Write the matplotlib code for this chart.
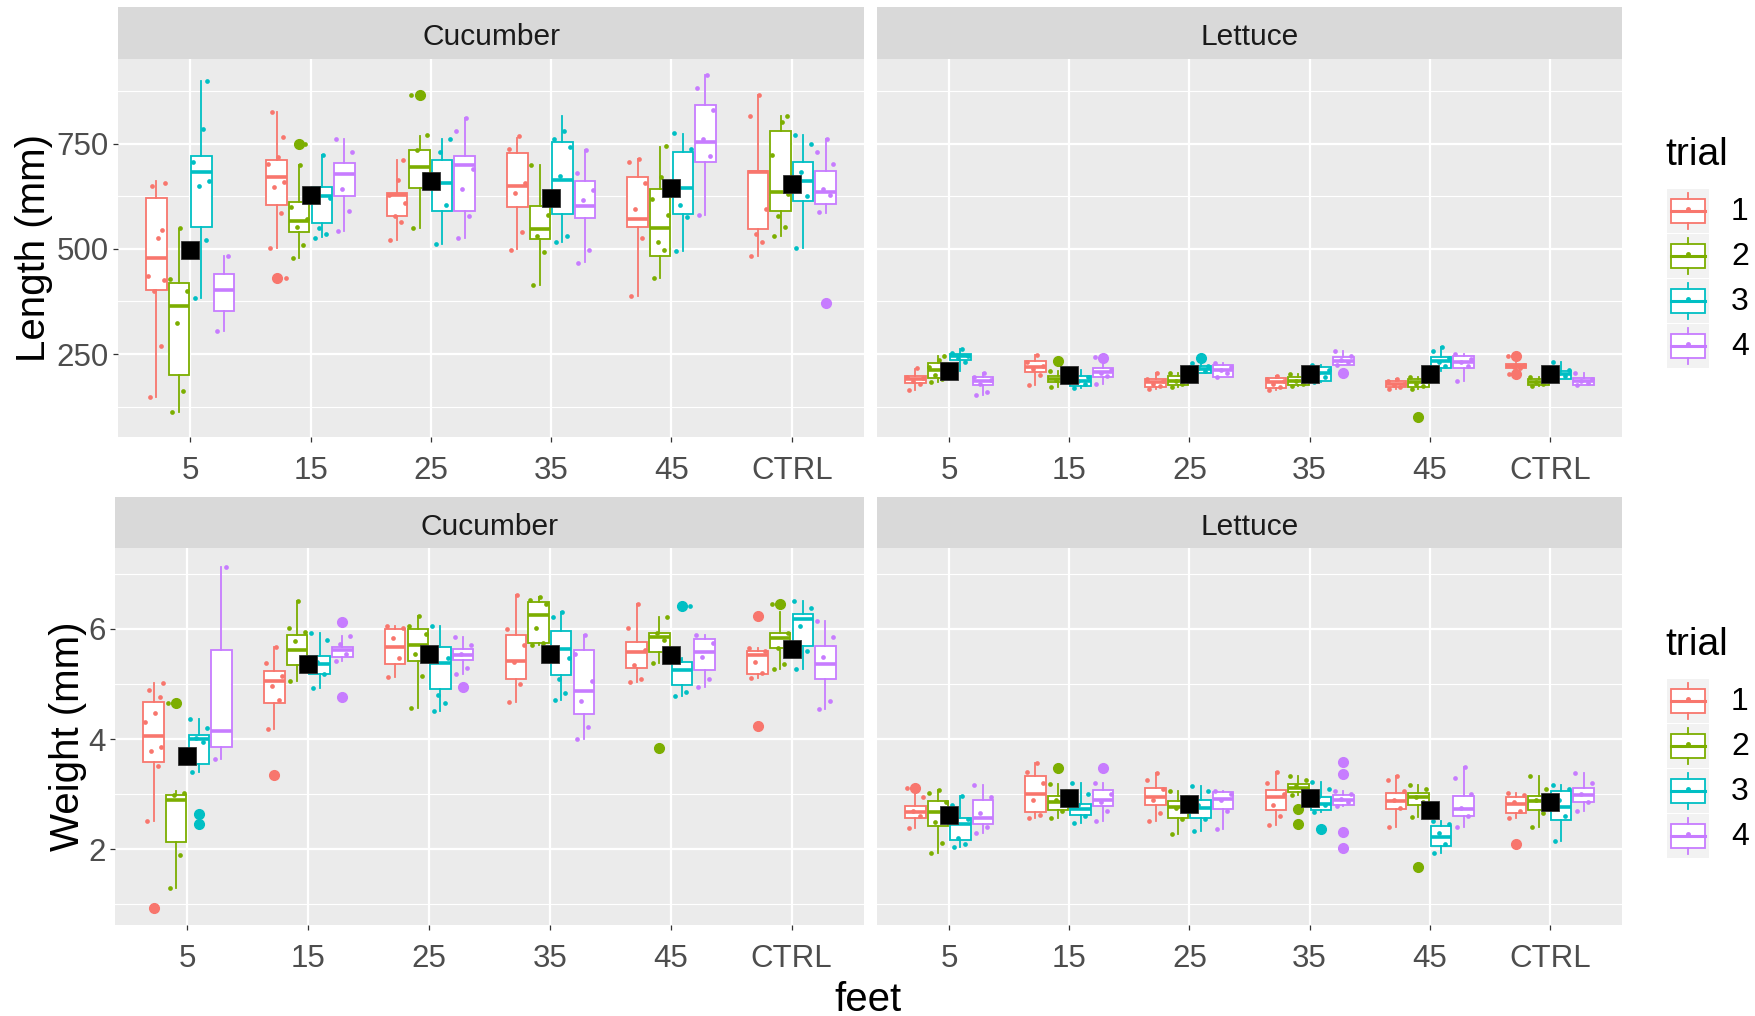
import matplotlib
matplotlib.use('Agg')
import matplotlib.pyplot as plt
from matplotlib.patches import Rectangle

plt.rcParams['font.family'] = ['Liberation Sans', 'DejaVu Sans']

feet = ['5', '15', '25', '35', '45', 'CTRL']
trials = ['1', '2', '3', '4']
colors = ['#F8766D', '#7CAE00', '#00BFC4', '#C77CFF']

# box stats per feet: (whisker low, q1, median, q3, whisker high)
# ---- Length, Cucumber
len_cuc_t1 = [(148, 403, 479, 620, 661), (503, 603, 670, 712, 824), (520, 579, 628, 633, 712),
              (500, 600, 650, 727, 763), (387, 551, 570, 670, 714), (484, 547, 682, 684, 866)]
len_cuc_t2 = [(112, 201, 365, 418, 547), (479, 541, 567, 611, 699), (550, 645, 694, 736, 769),
              (415, 524, 547, 601, 700), (430, 482, 549, 642, 741), (530, 589, 634, 781, 815)]
len_cuc_t3 = [(384, 551, 682, 721, 898), (528, 561, 625, 648, 724), (512, 591, 656, 712, 761),
              (516, 583, 664, 753, 816), (494, 583, 645, 729, 773), (502, 613, 662, 707, 771)]
len_cuc_t4 = [(305, 353, 403, 441, 484), (543, 625, 677, 703, 760), (526, 591, 698, 721, 812),
              (468, 574, 601, 661, 735), (581, 707, 755, 842, 913), (585, 607, 636, 684, 761)]
len_cuc_out = {(0, 1): [431], (1, 1): [749], (1, 2): [865], (3, 5): [372]}
len_cuc_mean = [498, 629, 660, 620, 644, 653]
len_cuc_pts = [
    [[148, 269, 400, 425, 435, 525, 544, 650, 657], [503, 585, 646, 658, 701, 717, 765, 826, 431],
     [520, 563, 579, 610, 628, 664, 712], [498, 540, 632, 656, 737, 767],
     [387, 525, 595, 656, 707, 714], [484, 516, 536, 595, 816, 866]],
    [[112, 162, 324, 401, 429, 549], [479, 508, 553, 571, 600, 699, 749],
     [550, 678, 736, 771, 865], [415, 492, 530, 581, 700],
     [430, 498, 517, 581, 619, 670, 744], [530, 553, 579, 631, 724, 802, 816]],
    [[384, 521, 650, 660, 706, 784, 898], [525, 536, 549, 620, 625, 724],
     [512, 605, 729, 761], [516, 530, 674, 743, 760, 779],
     [494, 575, 604, 737, 775], [502, 625, 682, 748, 771]],
    [[305, 484], [543, 591, 642, 729, 760], [526, 579, 642, 690, 779, 812],
     [466, 498, 615, 640, 680, 735], [581, 720, 761, 830, 881, 913],
     [587, 627, 642, 702, 729, 761]],
]

# ---- Length, Lettuce
len_let_t1 = [(165, 182, 190, 198, 215), (176, 208, 220, 233, 248), (167, 172, 183, 191, 205),
              (164, 170, 183, 192, 198), (168, 172, 180, 187, 191), (214, 216, 221, 226, 229)]
len_let_t2 = [(183, 192, 212, 228, 245), (172, 184, 190, 198, 210), (172, 176, 187, 198, 206),
              (174, 176, 185, 195, 202), (168, 172, 183, 191, 195), (174, 177, 183, 191, 196)]
len_let_t3 = [(210, 235, 245, 250, 263), (170, 174, 185, 198, 212), (204, 206, 214, 221, 229),
              (183, 185, 205, 220, 225), (210, 217, 233, 242, 267), (191, 191, 202, 210, 230)]
len_let_t4 = [(153, 176, 185, 196, 205), (180, 195, 208, 217, 230), (195, 195, 212, 223, 229),
              (223, 223, 233, 242, 258), (185, 217, 230, 245, 250), (177, 177, 185, 192, 206)]
len_let_out = {(0, 5): [245, 203], (1, 1): [233], (1, 4): [100], (2, 2): [240],
               (3, 1): [240], (3, 3): [205]}
len_let_mean = [210, 200, 202, 202, 202, 202]
len_let_pts = [
    [[164, 180, 186, 192, 196, 217], [176, 200, 215, 222, 230, 248], [167, 175, 180, 186, 190, 205],
     [164, 172, 178, 186, 190, 198], [168, 172, 176, 180, 185, 191], [203, 216, 220, 224, 245]],
    [[183, 190, 200, 210, 220, 235, 245], [172, 185, 188, 195, 210], [172, 178, 185, 192, 206],
     [174, 178, 185, 190, 202], [168, 175, 180, 186, 195], [174, 178, 183, 188, 196]],
    [[210, 230, 240, 246, 252, 263], [170, 178, 186, 195, 212], [204, 210, 216, 222, 229],
     [183, 195, 205, 212, 225], [210, 222, 232, 240, 258, 267], [191, 198, 204, 212, 230]],
    [[153, 160, 178, 188, 196, 205], [180, 198, 205, 212, 244], [195, 205, 212, 220, 229],
     [223, 230, 236, 245, 258], [185, 222, 230, 238, 250], [177, 182, 186, 190, 206]],
]

# ---- Weight, Cucumber
wt_cuc_t1 = [(2.52, 3.58, 4.06, 4.68, 5.01), (4.19, 4.66, 5.05, 5.23, 5.67), (5.12, 5.36, 5.67, 6.00, 6.05),
             (4.68, 5.09, 5.42, 5.89, 6.62), (5.03, 5.29, 5.59, 5.77, 6.45), (5.11, 5.19, 5.53, 5.60, 5.66)]
wt_cuc_t2 = [(1.30, 2.13, 2.89, 2.99, 3.06), (5.06, 5.34, 5.61, 5.89, 6.51), (4.56, 5.42, 5.70, 6.00, 6.24),
             (5.71, 5.75, 6.25, 6.49, 6.58), (5.39, 5.58, 5.85, 5.93, 6.22), (5.27, 5.65, 5.84, 5.92, 6.31)]
wt_cuc_t3 = [(3.41, 3.55, 4.00, 4.07, 4.36), (4.92, 5.19, 5.37, 5.51, 5.92), (4.51, 4.91, 5.39, 5.67, 6.05),
             (4.71, 5.16, 5.63, 5.96, 6.31), (4.79, 4.98, 5.25, 5.40, 5.48), (5.27, 5.69, 6.18, 6.27, 6.51)]
wt_cuc_t4 = [(3.64, 3.86, 4.14, 5.61, 7.12), (5.42, 5.50, 5.61, 5.68, 5.87), (5.18, 5.43, 5.53, 5.64, 5.86),
             (4.00, 4.45, 4.88, 5.61, 5.89), (4.94, 5.25, 5.59, 5.81, 5.89), (4.54, 5.09, 5.37, 5.69, 6.14)]
wt_cuc_out = {(0, 0): [0.94], (0, 1): [3.35], (0, 5): [6.24, 4.24], (1, 0): [4.66], (1, 4): [3.84],
              (1, 5): [6.45], (2, 0): [2.64, 2.46], (2, 4): [6.42], (3, 1): [6.13, 4.77], (3, 2): [4.95]}
wt_cuc_mean = [3.69, 5.36, 5.54, 5.55, 5.52, 5.64]
wt_cuc_pts = [
    [[2.52, 3.52, 3.79, 3.86, 4.31, 4.48, 4.76, 4.89, 5.01], [4.19, 4.71, 4.97, 5.15, 5.38, 5.67],
     [5.12, 5.48, 5.84, 6.02, 6.05], [4.68, 5.00, 5.40, 5.70, 6.00, 6.62],
     [5.03, 5.10, 5.35, 5.62, 6.02, 6.45], [5.11, 5.20, 5.40, 5.60, 5.66]],
    [[1.30, 1.89, 2.98, 3.02, 4.66], [5.06, 5.27, 5.78, 5.95, 6.01, 6.51],
     [4.56, 5.15, 5.55, 5.90, 6.05, 6.24], [5.71, 5.74, 6.01, 6.45, 6.52, 6.58],
     [5.39, 5.80, 5.93, 6.22], [5.27, 5.36, 5.65, 5.92, 6.45]],
    [[3.41, 3.95, 4.02, 4.20, 4.36], [4.92, 5.19, 5.40, 5.80, 5.92],
     [4.51, 4.66, 4.80, 5.48, 6.05], [4.71, 4.83, 5.10, 5.48, 6.22, 6.31],
     [4.79, 4.85, 5.44, 6.42], [5.27, 5.60, 6.05, 6.38, 6.51]],
    [[3.64, 7.12], [5.42, 5.55, 5.72, 5.87], [5.18, 5.30, 5.55, 5.70, 5.86],
     [4.00, 4.22, 4.70, 5.05, 5.55, 5.89], [4.94, 5.10, 5.50, 5.75, 5.89],
     [4.54, 4.70, 5.50, 5.85, 6.14]],
]

# ---- Weight, Lettuce
wt_let_t1 = [(2.38, 2.57, 2.68, 2.79, 3.00), (2.56, 2.68, 3.00, 3.33, 3.56), (2.51, 2.81, 2.94, 3.11, 3.39),
             (2.44, 2.71, 2.95, 3.08, 3.41), (2.40, 2.74, 2.88, 3.02, 3.33), (2.56, 2.65, 2.83, 2.94, 3.02)]
wt_let_t2 = [(1.94, 2.42, 2.67, 2.88, 3.08), (2.56, 2.71, 2.85, 2.96, 3.19), (2.28, 2.56, 2.77, 2.88, 3.05),
             (2.98, 3.04, 3.12, 3.19, 3.33), (2.59, 2.81, 2.94, 3.02, 3.17), (2.40, 2.71, 2.88, 2.96, 3.33)]
wt_let_t3 = [(2.05, 2.17, 2.45, 2.57, 2.96), (2.48, 2.63, 2.74, 2.83, 3.20), (2.34, 2.56, 2.75, 2.90, 3.14),
             (2.68, 2.71, 2.83, 2.94, 3.23), (1.94, 2.06, 2.22, 2.43, 2.52), (2.15, 2.54, 2.77, 3.06, 3.17)]
wt_let_t4 = [(2.30, 2.46, 2.57, 2.90, 3.17), (2.52, 2.79, 2.90, 3.07, 3.20), (2.37, 2.74, 2.91, 3.04, 3.05),
             (2.79, 2.81, 2.90, 2.98, 3.05), (2.40, 2.60, 2.73, 2.96, 3.49), (2.69, 2.85, 2.99, 3.11, 3.39)]
wt_let_out = {(0, 0): [3.12], (0, 5): [2.10], (1, 1): [3.47], (1, 3): [2.74, 2.46], (1, 4): [1.68],
              (2, 3): [2.36], (3, 1): [3.47], (3, 3): [3.58, 3.37, 2.32, 2.03]}
wt_let_mean = [2.63, 2.93, 2.82, 2.93, 2.71, 2.85]
wt_let_pts = [
    [[2.38, 2.60, 2.70, 2.95, 3.12], [2.56, 2.62, 2.90, 3.20, 3.40, 3.56], [2.51, 2.65, 2.90, 3.10, 3.25, 3.39],
     [2.44, 2.60, 2.80, 3.00, 3.20, 3.41], [2.40, 2.75, 2.90, 3.05, 3.25, 3.33], [2.56, 2.70, 2.85, 2.98, 3.02]],
    [[1.94, 2.12, 2.50, 2.85, 3.02, 3.08], [2.56, 2.70, 2.90, 3.05, 3.19], [2.28, 2.55, 2.75, 2.95, 3.05],
     [2.98, 3.05, 3.15, 3.25, 3.33], [2.59, 2.85, 2.95, 3.10, 3.17], [2.40, 2.65, 2.90, 3.10, 3.33]],
    [[2.05, 2.10, 2.20, 2.55, 2.80, 2.96], [2.48, 2.60, 2.80, 3.00, 3.20], [2.34, 2.55, 2.80, 3.05, 3.14],
     [2.68, 2.80, 2.95, 3.10, 3.23], [1.94, 2.10, 2.30, 2.45, 2.52], [2.15, 2.60, 2.90, 3.10, 3.17]],
    [[2.30, 2.40, 2.65, 2.95, 3.17], [2.52, 2.70, 2.85, 3.00, 3.20], [2.37, 2.70, 2.90, 3.00, 3.05],
     [2.79, 2.85, 2.92, 3.00, 3.05], [2.40, 2.60, 2.75, 3.00, 3.30, 3.49], [2.69, 2.85, 3.00, 3.20, 3.39]],
]

len_ticks = [250, 500, 750]
len_minor = [125, 375, 625, 875]
wt_ticks = [2, 4, 6]
wt_minor = [1, 3, 5, 7]

# dodge / jitter layout
slot = 0.1875
box_w = 0.17
jit = [-0.055, 0.035, -0.02, 0.065, -0.07, 0.01, 0.05, -0.04, 0.075, -0.01]

W, H = 1755, 1016
fig = plt.figure(figsize=(W / 100, H / 100), dpi=100)


def rect(x0, y0, x1, y1):
    return [x0 / W, 1 - y1 / H, (x1 - x0) / W, (y1 - y0) / H]


def draw_panel(ax, stats, outs, pts, means, ylim, major, minor, show_y):
    ax.set_facecolor('#EBEBEB')
    for s in ax.spines.values():
        s.set_visible(False)

    for t in range(4):
        col = colors[t]
        bstats = []
        pos = []
        for f in range(6):
            lo, q1, med, q3, hi = stats[t][f]
            bstats.append({'whislo': lo, 'q1': q1, 'med': med, 'q3': q3, 'whishi': hi,
                           'fliers': outs.get((t, f), [])})
            pos.append(f + 1 + (t - 1.5) * slot)
        ax.bxp(bstats, positions=pos, widths=box_w, patch_artist=True, showcaps=False,
               manage_ticks=False,
               boxprops=dict(facecolor='white', edgecolor=col, lw=1.3),
               whiskerprops=dict(color=col, lw=1.3),
               medianprops=dict(color=col, lw=2.6),
               flierprops=dict(marker='o', markersize=7, markerfacecolor=col,
                               markeredgecolor=col),
               zorder=2)
        for f in range(6):
            vals = pts[t][f]
            xs = [pos[f] + jit[i % len(jit)] for i in range(len(vals))]
            ax.plot(xs, vals, 'o', ms=3.4, color=col, mec='none', zorder=3)
    ax.plot(range(1, 7), means, 's', ms=13, color='black', mec='#333333', mew=0.6, zorder=5)

    ax.set_xlim(0.4, 6.6)
    ax.set_ylim(*ylim)
    ax.set_xticks(range(1, 7))
    ax.set_xticklabels(feet)
    ax.set_yticks(major)
    ax.set_yticks(minor, minor=True)
    ax.grid(which='major', color='white', lw=1.6, zorder=0)
    ax.grid(which='minor', axis='y', color='white', lw=0.8, zorder=0)
    ax.set_axisbelow(True)
    ax.tick_params(axis='both', which='major', length=3.5, width=0.9, color='#333333',
                   labelsize=22.5, labelcolor='#4D4D4D', pad=3)
    ax.tick_params(axis='x', pad=10)
    ax.tick_params(axis='y', which='minor', length=0)
    if show_y:
        ax.set_yticklabels([str(t) for t in major])
    else:
        ax.tick_params(axis='y', length=0, labelleft=False)


def strip(r, label):
    sa = fig.add_axes(r)
    sa.set_facecolor('#D9D9D9')
    sa.set_xticks([])
    sa.set_yticks([])
    for s in sa.spines.values():
        s.set_visible(False)
    sa.text(0.5, 0.42, label, ha='center', va='center', fontsize=21.5, color='#1A1A1A',
            transform=sa.transAxes)


len_stats_cuc = [len_cuc_t1, len_cuc_t2, len_cuc_t3, len_cuc_t4]
len_stats_let = [len_let_t1, len_let_t2, len_let_t3, len_let_t4]
wt_stats_cuc = [wt_cuc_t1, wt_cuc_t2, wt_cuc_t3, wt_cuc_t4]
wt_stats_let = [wt_let_t1, wt_let_t2, wt_let_t3, wt_let_t4]

len_ylim = (53, 951)
wt_ylim = (0.625, 7.47)

ax1 = fig.add_axes(rect(118, 59, 864, 437))
draw_panel(ax1, len_stats_cuc, len_cuc_out, len_cuc_pts, len_cuc_mean, len_ylim, len_ticks, len_minor, True)
ax2 = fig.add_axes(rect(877, 59, 1622, 437))
draw_panel(ax2, len_stats_let, len_let_out, len_let_pts, len_let_mean, len_ylim, len_ticks, len_minor, False)
ax3 = fig.add_axes(rect(115, 548, 864, 925))
draw_panel(ax3, wt_stats_cuc, wt_cuc_out, wt_cuc_pts, wt_cuc_mean, wt_ylim, wt_ticks, wt_minor, True)
ax4 = fig.add_axes(rect(877, 548, 1622, 925))
draw_panel(ax4, wt_stats_let, wt_let_out, wt_let_pts, wt_let_mean, wt_ylim, wt_ticks, wt_minor, False)

strip(rect(118, 7, 864, 59), 'Cucumber')
strip(rect(877, 7, 1622, 59), 'Lettuce')
strip(rect(115, 497, 864, 548), 'Cucumber')
strip(rect(877, 497, 1622, 548), 'Lettuce')

fig.text(34 / W, 1 - 248 / H, 'Length (mm)', rotation=90, ha='center', va='center', fontsize=29)
fig.text(68 / W, 1 - 736 / H, 'Weight (mm)', rotation=90, ha='center', va='center', fontsize=29)
fig.text(868 / W, 1 - 1000 / H, 'feet', ha='center', va='center', fontsize=29)

# legends drawn in pixel coordinates
lg = fig.add_axes([0, 0, 1, 1])
lg.set_xlim(0, W)
lg.set_ylim(H, 0)
lg.axis('off')
lg.patch.set_alpha(0)
for y0 in (0, 490):
    lg.text(1665, 155 + y0, 'trial', fontsize=28, ha='left', va='center')
    for i, lab in enumerate(trials):
        top = 189 + y0 + i * 45
        lg.add_patch(Rectangle((1667, top), 42, 44, facecolor='#F2F2F2', edgecolor='none'))
        lg.add_patch(Rectangle((1671, top + 10), 34, 24, facecolor='white', edgecolor=colors[i], lw=1.3))
        lg.plot([1688, 1688], [top + 4, top + 10], color=colors[i], lw=1.3)
        lg.plot([1688, 1688], [top + 34, top + 40], color=colors[i], lw=1.3)
        lg.plot([1671, 1705], [top + 22, top + 22], color=colors[i], lw=2.2)
        lg.plot([1688], [top + 20], 'o', ms=2.5, color=colors[i])
        lg.text(1731, top + 23, lab, fontsize=23, ha='left', va='center')

fig.savefig('out.png', dpi=100)
